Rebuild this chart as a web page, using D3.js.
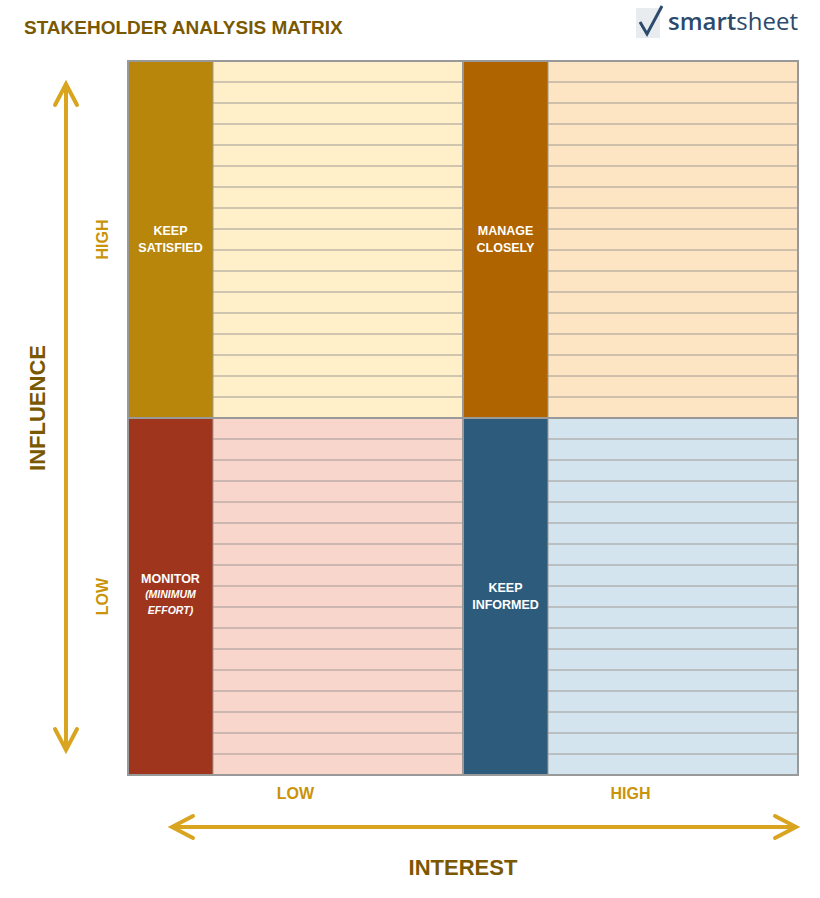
<!DOCTYPE html>
<html><head><meta charset="utf-8">
<script src="https://cdn.jsdelivr.net/npm/d3@7"></script>
<style>body{margin:0;background:#fff}</style></head>
<body><svg id="c" width="820" height="898"></svg>
<script>
const interestLevels = ["LOW","HIGH"];
const influenceLevels = ["HIGH","LOW"];
const quadrants = [
  {interest:"LOW", influence:"HIGH", label:["KEEP","SATISFIED"], sub:[], head:"#b8860b", fill:"#fff0c9"},
  {interest:"HIGH", influence:"HIGH", label:["MANAGE","CLOSELY"], sub:[], head:"#b06400", fill:"#fde5c3"},
  {interest:"LOW", influence:"LOW", label:["MONITOR"], sub:["(MINIMUM","EFFORT)"], head:"#a0351e", fill:"#f8d6cc"},
  {interest:"HIGH", influence:"LOW", label:["KEEP","INFORMED"], sub:[], head:"#2d5b7b", fill:"#d3e4ef"}
];
const rowsPerQuadrant = d3.range(17);

const svg = d3.select("#c");
const F = "Liberation Sans, Arial, sans-serif";
const x = d3.scaleBand().domain(interestLevels).range([128,798]);
const y = d3.scaleBand().domain(influenceLevels).range([61,775]);
const headW = 85;

svg.append("text").attr("x",24).attr("y",34).attr("font-family",F).attr("font-weight","bold")
  .attr("font-size",19).attr("fill","#7a5800").text("STAKEHOLDER ANALYSIS MATRIX");

// logo
const lg = svg.append("g");
lg.append("rect").attr("x",636).attr("y",8).attr("width",24).attr("height",30).attr("fill","#e9ecef");
lg.append("path").attr("d","M640,22 L647,34 L662,6").attr("fill","none").attr("stroke","#2c4a6b").attr("stroke-width",3);
lg.append("text").attr("x",668).attr("y",30).attr("font-family","Open Sans, sans-serif").attr("font-size",24)
  .attr("fill","#2c4a6b").html('<tspan font-weight="600">smart</tspan><tspan>sheet</tspan>');

quadrants.forEach(q=>{
  const x0=x(q.interest), y0=y(q.influence), w=x.bandwidth(), h=y.bandwidth();
  const g=svg.append("g");
  g.append("rect").attr("x",x0).attr("y",y0).attr("width",headW).attr("height",h).attr("fill",q.head);
  g.append("rect").attr("x",x0+headW).attr("y",y0).attr("width",w-headW).attr("height",h).attr("fill",q.fill);
  const ry=d3.scaleBand().domain(rowsPerQuadrant).range([y0,y0+h]);
  rowsPerQuadrant.slice(1).forEach(r=>{
    g.append("line").attr("x1",x0+headW).attr("x2",x0+w).attr("y1",ry(r)).attr("y2",ry(r))
      .attr("stroke","#a09a94").attr("stroke-width",1);
  });
  g.append("line").attr("x1",x0+headW).attr("x2",x0+headW).attr("y1",y0).attr("y2",y0+h).attr("stroke","#a09a94");
  const cx=x0+headW/2, cy=y0+h/2;
  const n=q.label.length+q.sub.length;
  let ty=cy-(n*17)/2+12;
  q.label.forEach(t=>{g.append("text").attr("x",cx).attr("y",ty).attr("text-anchor","middle").attr("font-family",F)
    .attr("font-weight","bold").attr("font-size",12.5).attr("fill","#fff").text(t); ty+=17;});
  q.sub.forEach(t=>{g.append("text").attr("x",cx).attr("y",ty-2).attr("text-anchor","middle").attr("font-family",F)
    .attr("font-weight","bold").attr("font-style","italic").attr("font-size",10.5).attr("fill","#fff").text(t); ty+=16;});
});
svg.append("rect").attr("x",128).attr("y",61).attr("width",670).attr("height",714).attr("fill","none").attr("stroke","#999").attr("stroke-width",2);
svg.append("line").attr("x1",x("HIGH")).attr("x2",x("HIGH")).attr("y1",61).attr("y2",775).attr("stroke","#999").attr("stroke-width",2);
svg.append("line").attr("x1",128).attr("x2",798).attr("y1",y("LOW")).attr("y2",y("LOW")).attr("stroke","#999").attr("stroke-width",2);

const lab="#c9930a";
interestLevels.forEach(l=>svg.append("text").attr("x",x(l)+x.bandwidth()/2).attr("y",799).attr("text-anchor","middle")
  .attr("font-family",F).attr("font-weight","bold").attr("font-size",16).attr("fill",lab).text(l));
influenceLevels.forEach(l=>svg.append("text").attr("transform",`translate(108,${y(l)+y.bandwidth()/2}) rotate(-90)`)
  .attr("text-anchor","middle").attr("font-family",F).attr("font-weight","bold").attr("font-size",16).attr("fill",lab).text(l));

svg.append("text").attr("x",463).attr("y",875).attr("text-anchor","middle").attr("font-family",F).attr("font-weight","bold")
  .attr("font-size",22).attr("fill","#7a5800").text("INTEREST");
svg.append("text").attr("transform","translate(45,408) rotate(-90)").attr("text-anchor","middle").attr("font-family",F)
  .attr("font-weight","bold").attr("font-size",22).attr("fill","#7a5800").text("INFLUENCE");

const ac="#d9a520";
const ar=svg.append("g").attr("fill","none").attr("stroke",ac).attr("stroke-width",4).attr("stroke-linecap","round");
ar.append("line").attr("x1",66).attr("x2",66).attr("y1",86).attr("y2",748);
ar.append("path").attr("d","M55,105 L66,84 L77,105");
ar.append("path").attr("d","M55,729 L66,750 L77,729");
ar.append("line").attr("x1",174).attr("x2",794).attr("y1",827).attr("y2",827);
ar.append("path").attr("d","M193,816 L172,827 L193,838");
ar.append("path").attr("d","M775,816 L796,827 L775,838");
</script></body></html>
